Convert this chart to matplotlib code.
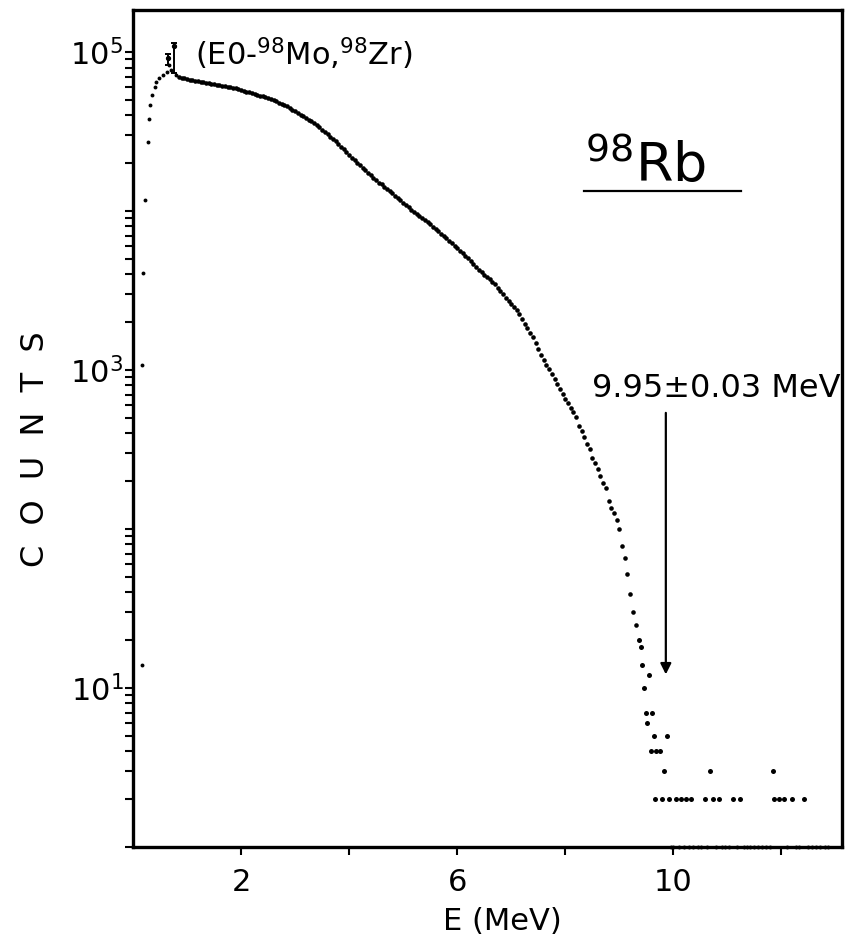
import numpy as np
import matplotlib
matplotlib.use("Agg")
import matplotlib.pyplot as plt

# beta spectrum of 98Rb
rise_energy = [0.16, 0.17, 0.19, 0.23, 0.27, 0.29, 0.32, 0.36, 0.40, 0.43, 0.49, 0.56, 0.62, 0.67, 0.71, 0.80]
rise_counts = [14, 1080, 4070, 11700, 27200, 37900, 46400, 53700, 60200, 64800, 68600, 71700, 74800, 82800, 77100, 71700]

# E0 conversion lines (98Mo, 98Zr)
e0_energy = [0.64, 0.76]
e0_counts = [91700, 110000]
e0_low = [83000, 74000]
e0_high = [97000, 114000]

# main part of the spectrum, 0.05 MeV channels starting at 0.85 MeV
main_counts = [
    69500, 69000, 68400, 67800, 67100, 66700, 66100, 65500, 64900, 64400,
    64000, 63500, 63100, 62700, 62200, 61800, 61400, 61000, 60500, 60100,
    59700, 59200, 58500, 57800, 57100, 56500, 55800, 55200, 54600, 54000,
    53300, 52700, 52100, 51500, 50600, 49700, 48900, 48000, 47100, 46200,
    45500, 44600, 43400, 42500, 41400, 40500, 39400, 38500, 37600, 36700,
    35800, 34700, 33600, 32500, 31400, 30400, 29400, 28400, 27400, 26400,
    25400, 24400, 23400, 22500, 21700, 20900, 20100, 19400, 18700, 18000,
    17400, 16800, 16200, 15700, 15100, 14700, 14200, 13700, 13300, 12900,
    12400, 12100, 11700, 11300, 10900, 10600, 10200, 9890, 9600, 9310,
    9040, 8770, 8510, 8260, 7980, 7710, 7450, 7190, 6970, 6730,
    6490, 6270, 6040, 5830, 5640, 5430, 5250, 5060, 4850, 4660,
    4470, 4280, 4110, 3970, 3850, 3720, 3600, 3470, 3300, 3150,
    3010, 2860, 2730, 2610, 2490, 2370, 2240, 2080, 1950, 1830,
    1720, 1620, 1490, 1360, 1240, 1160, 1080, 1010, 944, 879,
    817, 757, 703, 656, 617, 579, 545, 510, 445, 414,
    377, 344, 320, 280, 262, 237, 215, 195, 180, 150,
    136, 126, 114, 100, 78, 66, 52, 39, 30, 25,
]
main_energy = np.round(0.85 + 0.05 * np.arange(len(main_counts)), 2)

# sparse tail near the endpoint
tail_energy = [9.37, 9.40, 9.42, 9.46, 9.49, 9.52, 9.55, 9.58, 9.60, 9.64,
               9.66, 9.68, 9.76, 9.78, 9.83, 9.88, 9.92, 10.05, 10.14, 10.23,
               10.32, 10.58, 10.68, 10.73, 10.84, 11.11, 11.24, 11.85, 11.86, 11.96,
               12.05, 12.19, 12.41]
tail_counts = [20, 18, 14, 10, 7, 6, 12, 4, 7, 5,
               2, 4, 4, 2, 3, 5, 2, 2, 2, 2,
               2, 2, 3, 2, 2, 2, 2, 3, 2, 2,
               2, 2, 2]

# single counts sitting on the bottom axis
one_energy = [9.95, 10.00, 10.10, 10.19, 10.28, 10.37, 10.45, 10.52, 10.63, 10.78,
              10.90, 10.96, 11.02, 11.17, 11.30, 11.36, 11.42, 11.50, 11.57, 11.64,
              11.72, 11.79, 12.10, 12.26, 12.32, 12.50, 12.56, 12.64, 12.72, 12.80, 12.86]
one_counts = [1] * len(one_energy)

endpoint = 9.86

fig = plt.figure(figsize=(8.51, 9.41), dpi=100)
ax = fig.add_axes([133 / 851, 94 / 941, 709 / 851, 837 / 941])

ax.plot(rise_energy, rise_counts, "o", color="black", ms=2.8, mew=0, clip_on=False)
ax.plot(main_energy, main_counts, "o", color="black", ms=3.3, mew=0)
ax.plot(tail_energy, tail_counts, "o", color="black", ms=3.6, mew=0)
ax.plot(one_energy, one_counts, "o", color="black", ms=2.8, mew=0, clip_on=False)
ax.errorbar(e0_energy, e0_counts,
            yerr=[np.subtract(e0_counts, e0_low), np.subtract(e0_high, e0_counts)],
            fmt="o", color="black", ms=2.8, elinewidth=1.4, capsize=2, capthick=1.4)

ax.set_yscale("log")
ax.set_xlim(0, 13.12)
ax.set_ylim(1, 1.84e5)

ax.set_xticks([2, 6, 10])
ax.set_xticklabels(["2", "6", "10"])
ax.set_xticks([4, 8, 12], minor=True)

ax.set_yticks([1e1, 1e3, 1e5])
ax.set_yticklabels([r"$10^1$", r"$10^3$", r"$10^5$"])
ax.set_yticks([m * 10.0**k for k in range(0, 5) for m in range(1, 10)
               if m * 10.0**k not in (1e1, 1e3)], minor=True)
ax.yaxis.set_minor_formatter(plt.NullFormatter())

for s in ax.spines.values():
    s.set_linewidth(2.4)
ax.tick_params(which="both", direction="out", width=1.5, length=6, labelsize=22)
ax.tick_params(axis="y", which="both", pad=1)
ax.tick_params(axis="x", which="both", pad=9)

fig.text(502 / 851, 1 - 922 / 941, "E (MeV)", fontsize=22, ha="center", va="center")
fig.text(36 / 851, 1 - 449 / 941, "C  O  U  N  T  S", fontsize=23, rotation=90,
         ha="center", va="center")

ax.text(1.14, 82800, r"(E0-$^{98}$Mo,$^{98}$Zr)", fontsize=22, va="baseline")

ax.text(0.638, 0.7945, r"$^{98}$Rb", fontsize=39, transform=ax.transAxes, va="baseline")
ax.plot([0.636, 0.858], [0.784, 0.784], color="black", lw=1.6, transform=ax.transAxes)

ax.text(10.8, 771, "9.95\u00b10.03 MeV", fontsize=23, ha="center", va="center")
ax.annotate("", xy=(endpoint, 11.7), xytext=(endpoint, 560),
            arrowprops=dict(arrowstyle="-|>", color="black", lw=1.6, mutation_scale=16))

fig.savefig("out.png", dpi=100)
